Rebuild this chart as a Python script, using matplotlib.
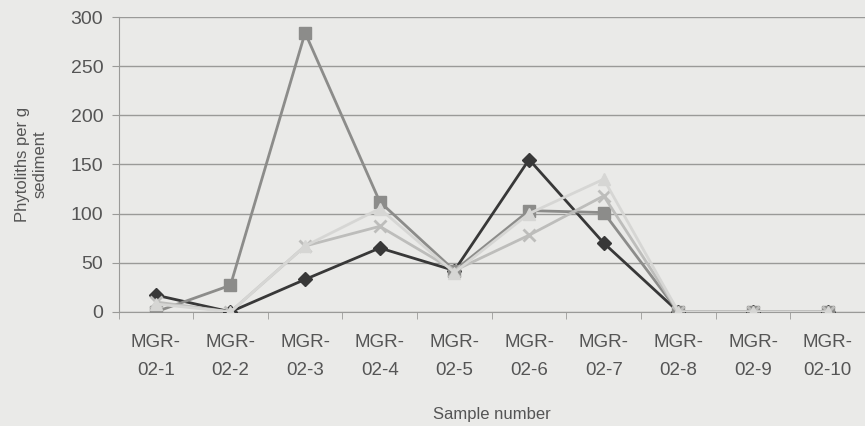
import numpy as np
import matplotlib.pyplot as plt
from matplotlib.ticker import FixedLocator

plt.rcParams['font.family'] = ['Liberation Sans', 'DejaVu Sans']

samples = ['MGR-\n02-1', 'MGR-\n02-2', 'MGR-\n02-3', 'MGR-\n02-4', 'MGR-\n02-5',
           'MGR-\n02-6', 'MGR-\n02-7', 'MGR-\n02-8', 'MGR-\n02-9', 'MGR-\n02-10']

diamond = [17, 0, 33, 65, 42, 155, 70, 0, 0, 0]
square = [0, 27, 284, 112, 42, 103, 101, 0, 0, 0]
cross = [10, 0, 67, 87, 42, 78, 118, 0, 0, 0]
triangle = [8, 0, 67, 105, 40, 100, 135, 0, 0, 0]

x = np.arange(len(samples))

fig = plt.figure(figsize=(8.65, 4.26), dpi=100)
fig.patch.set_facecolor('#eaeae8')
ax = fig.add_axes([0.137, 0.268, 0.863, 0.692])
ax.set_facecolor('#eaeae8')

# lightest series ends up on top, like the scan
ax.plot(x, diamond, color='#383838', lw=2, marker='D', ms=7, zorder=3)
ax.plot(x, square, color='#8c8c8a', lw=2, marker='s', ms=9, zorder=4)
ax.plot(x, cross, color='#bdbdbb', lw=2, marker='x', ms=9, mew=2, zorder=5)
ax.plot(x, triangle, color='#d6d6d4', lw=2, marker='^', ms=8, zorder=6)

ax.set_xlim(-0.5, len(samples) - 0.5)
ax.set_ylim(0, 300)
ax.set_yticks(range(0, 301, 50))
ax.grid(axis='y', color='#9a9a98', lw=1)
ax.set_axisbelow(True)

ax.set_xticks(x)
ax.set_xticklabels(samples, fontsize=13.5, color='#555555', linespacing=1.85)
ax.xaxis.set_minor_locator(FixedLocator(np.arange(-0.5, len(samples), 1)))
ax.tick_params(axis='x', which='major', length=0, pad=16)
ax.tick_params(axis='x', which='minor', length=5, color='#9a9a98', direction='out')
ax.tick_params(axis='y', length=5, color='#9a9a98', labelsize=14, labelcolor='#555555', pad=6)

for s in ['top', 'right']:
    ax.spines[s].set_visible(False)
ax.spines['left'].set_color('#9a9a98')
ax.spines['bottom'].set_color('#9a9a98')

ax.set_xlabel('Sample number', fontsize=12, color='#555555', labelpad=20)
ax.set_ylabel('Phytoliths per g\nsediment', fontsize=12, color='#555555')
ax.yaxis.set_label_coords(-0.095, 0.5)

fig.savefig('out.png', dpi=100, facecolor=fig.get_facecolor())
